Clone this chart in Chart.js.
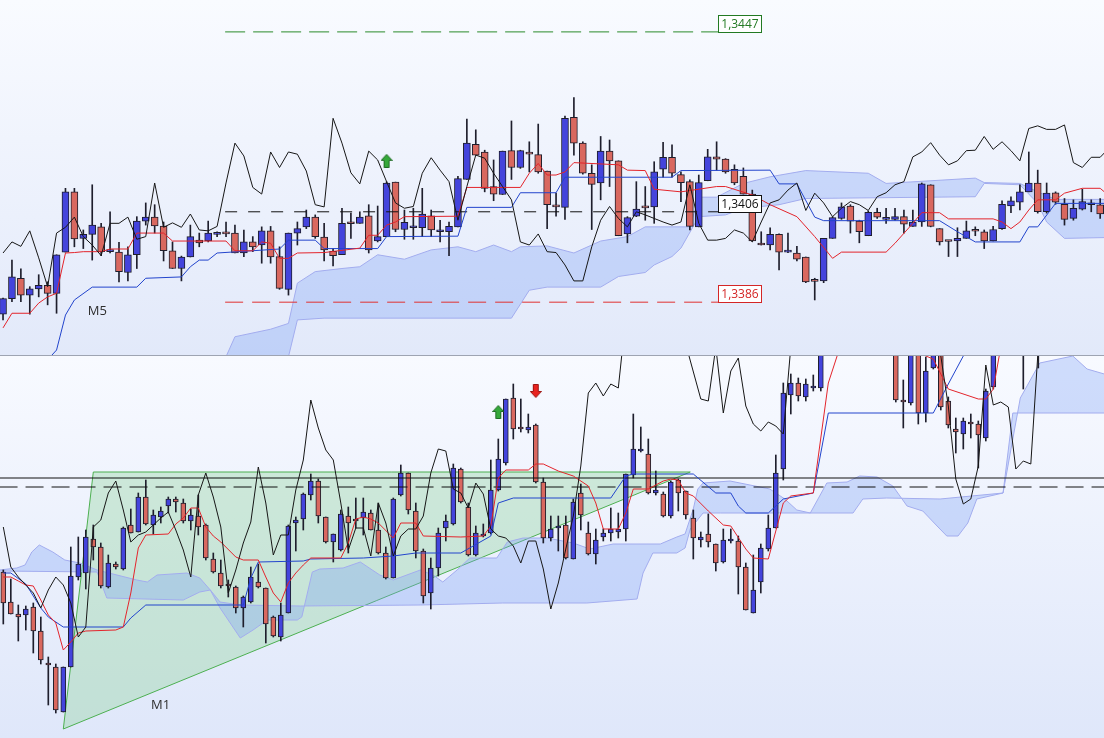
<!DOCTYPE html>
<html>
<head>
<meta charset="utf-8">
<script src="https://cdn.jsdelivr.net/npm/chart.js@4.4.1/dist/chart.umd.min.js"></script>
<style>
  html, body { margin: 0; padding: 0; overflow: hidden; background: #fff; }
  #wrap { width: 1104px; height: 738px; }
  canvas { display: block; }
  #m5 { background: linear-gradient(#f9fbff, #e2e9fa); }
  #sep { height: 1px; background: #9ea4b2; }
  #m1 { background: linear-gradient(#f8faff, #dfe7fa); }
</style>
</head>
<body>
<div id="wrap">
  <canvas id="m5" width="1104" height="355"></canvas>
  <div id="sep"></div>
  <canvas id="m1" width="1104" height="382"></canvas>
</div>
<script>
// ---------- M5 panel (upper) ----------
// candles: [open, high, low, close], one per bar starting at bar 1
const m5Ohlc = [
  [1.33833,1.33869,1.33820,1.33868],[1.33868,1.33955,1.33861,1.33917],[1.33914,1.33935,1.33861,1.33876],[1.33876,1.33895,1.33833,1.33890],
  [1.33890,1.33922,1.33872,1.33898],[1.33898,1.33906,1.33854,1.33880],[1.33880,1.33967,1.33835,1.33967],[1.33973,1.34117,1.33973,1.34109],
  [1.34109,1.34117,1.33985,1.34003],[1.34004,1.34023,1.33981,1.34013],[1.34013,1.34125,1.33955,1.34034],[1.34030,1.34038,1.33965,1.33974],
  [1.33974,1.34064,1.33971,1.33975],[1.33973,1.33995,1.33906,1.33929],[1.33927,1.33985,1.33908,1.33967],[1.33967,1.34053,1.33936,1.34043],
  [1.34043,1.34084,1.34034,1.34052],[1.34052,1.34080,1.34016,1.34032],[1.34032,1.34041,1.33953,1.33976],[1.33976,1.33996,1.33936,1.33936],
  [1.33936,1.33964,1.33908,1.33962],[1.33962,1.34034,1.33962,1.34008],[1.34000,1.34016,1.33985,1.33994],[1.33998,1.34043,1.33996,1.34016],
  [1.34013,1.34019,1.34008,1.34015],[1.34015,1.34041,1.34008,1.34014],[1.34016,1.34034,1.33971,1.33971],[1.33971,1.34023,1.33963,1.33996],
  [1.33996,1.34008,1.33974,1.33985],[1.33989,1.34030,1.33948,1.34021],[1.34021,1.34031,1.33948,1.33962],[1.33963,1.33985,1.33889,1.33891],
  [1.33889,1.34016,1.33876,1.34016],[1.34016,1.34041,1.33989,1.34026],[1.34030,1.34068,1.34026,1.34052],[1.34052,1.34057,1.34004,1.34008],
  [1.34007,1.34038,1.33953,1.33978],[1.33975,1.33981,1.33942,1.33965],[1.33967,1.34072,1.33967,1.34038],[1.34038,1.34061,1.34004,1.34037],
  [1.34038,1.34064,1.34038,1.34052],[1.34055,1.34080,1.33971,1.33978],[1.33998,1.34077,1.33996,1.34008],[1.34008,1.34132,1.34008,1.34129],
  [1.34131,1.34131,1.34019,1.34024],[1.34024,1.34068,1.34002,1.34040],[1.34028,1.34072,1.34002,1.34029],[1.34028,1.34117,1.34008,1.34059],
  [1.34055,1.34068,1.34008,1.34023],[1.34019,1.34045,1.33996,1.34020],[1.34019,1.34041,1.33965,1.34031],[1.34030,1.34144,1.34030,1.34139],
  [1.34137,1.34273,1.34137,1.34219],[1.34216,1.34249,1.34192,1.34192],[1.34199,1.34203,1.34109,1.34117],[1.34121,1.34181,1.34089,1.34104],
  [1.34103,1.34201,1.34103,1.34201],[1.34202,1.34269,1.34137,1.34164],[1.34164,1.34203,1.34162,1.34202],[1.34198,1.34222,1.34154,1.34194],
  [1.34193,1.34262,1.34151,1.34154],[1.34156,1.34156,1.34026,1.34080],[1.34076,1.34106,1.34054,1.34075],[1.34074,1.34280,1.34047,1.34275],
  [1.34277,1.34322,1.34192,1.34219],[1.34219,1.34222,1.34149,1.34151],[1.34151,1.34170,1.34024,1.34126],[1.34129,1.34234,1.34091,1.34201],
  [1.34201,1.34226,1.34121,1.34179],[1.34179,1.34179,1.34010,1.34010],[1.34014,1.34053,1.33994,1.34051],[1.34054,1.34132,1.34053,1.34070],
  [1.34074,1.34121,1.34045,1.34073],[1.34075,1.34177,1.34038,1.34154],[1.34160,1.34221,1.34142,1.34187],[1.34187,1.34215,1.34142,1.34151],
  [1.34148,1.34154,1.34087,1.34130],[1.34132,1.34136,1.34023,1.34031],[1.34030,1.34147,1.34030,1.34130],[1.34134,1.34205,1.34134,1.34188],
  [1.34188,1.34222,1.34158,1.34183],[1.34183,1.34184,1.34151,1.34154],[1.34160,1.34170,1.34125,1.34129],[1.34144,1.34163,1.34104,1.34104],
  [1.34104,1.34113,1.33998,1.33998],[1.33993,1.34019,1.33989,1.33989],[1.33989,1.34028,1.33978,1.34013],[1.34013,1.34014,1.33933,1.33973],
  [1.33973,1.34016,1.33972,1.33974],[1.33971,1.33986,1.33953,1.33957],[1.33962,1.33962,1.33904,1.33906],[1.33908,1.33914,1.33865,1.33907],
  [1.33908,1.34004,1.33904,1.34004],[1.34004,1.34053,1.34004,1.34051],[1.34049,1.34084,1.34047,1.34075],[1.34077,1.34080,1.34016,1.34043],
  [1.34043,1.34045,1.33994,1.34019],[1.34010,1.34066,1.34010,1.34063],[1.34063,1.34072,1.34049,1.34052],[1.34047,1.34072,1.34038,1.34050],
  [1.34047,1.34072,1.34045,1.34053],[1.34053,1.34068,1.34016,1.34036],[1.34031,1.34068,1.34031,1.34041],[1.34041,1.34129,1.34031,1.34127],
  [1.34125,1.34125,1.34030,1.34031],[1.34026,1.34026,1.33989,1.33996],[1.33998,1.33998,1.33963,1.33997],[1.33998,1.34028,1.33963,1.34004],
  [1.34004,1.34043,1.34004,1.34021],[1.34021,1.34030,1.34010,1.34020],[1.34019,1.34023,1.33981,1.33998],[1.33998,1.34031,1.33998,1.34024],
  [1.34026,1.34089,1.34024,1.34081],[1.34077,1.34098,1.34062,1.34089],[1.34086,1.34125,1.34068,1.34109],[1.34109,1.34199,1.34109,1.34129],
  [1.34129,1.34158,1.34061,1.34064],[1.34064,1.34129,1.34061,1.34106],[1.34107,1.34109,1.34081,1.34086],[1.34081,1.34094,1.34034,1.34047],
  [1.34049,1.34091,1.34045,1.34072],[1.34070,1.34115,1.34068,1.34087],[1.34080,1.34091,1.34064,1.34081],[1.34080,1.34094,1.34049,1.34059]
];
// lagging line, one value per bar from bar 1
const m5Chikou = [
  1.33971,1.33996,1.33986,1.34021,1.33960,1.33895,1.34016,1.34029,1.34052,1.34008,
  1.33989,1.33965,1.34038,1.34038,1.34052,1.34002,1.34008,1.34129,1.34029,1.34039,
  1.34029,1.34059,1.34023,1.34021,1.34031,1.34129,1.34219,1.34190,1.34119,1.34104,
  1.34199,1.34164,1.34199,1.34194,1.34156,1.34080,1.34075,1.34275,1.34219,1.34152,
  1.34127,1.34201,1.34181,1.34132,1.34084,1.34072,1.34076,1.34151,1.34186,1.34158,
  1.34132,1.34045,1.34121,1.34192,1.34185,1.34151,1.34121,1.34091,1.33996,1.33989,
  1.34014,1.33974,1.33972,1.33944,1.33908,1.33908,1.33985,1.34045,1.34076,1.34049,
  1.34030,1.34064,1.34057,1.34049,1.34041,1.34034,1.34041,1.34125,1.34038,1.34000,
  1.34000,1.34004,1.34023,1.34016,1.33996,1.34041,1.34084,1.34091,1.34113,1.34129,
  1.34067,1.34106,1.34084,1.34053,1.34072,1.34087,1.34080,1.34067,1.34098,1.34107,
  1.34125,1.34132,1.34188,1.34199,1.34220,1.34192,1.34170,1.34179,1.34202,1.34203,
  1.34234,1.34205,1.34222,1.34202,1.34179,1.34252,1.34258,1.34250,1.34250,1.34260,
  1.34175,1.34164,1.34187,1.34187,1.34208
];
// [bar, price] break points
const m5Tenkan = [[1,1.33802],[2,1.33835],[4,1.33835],[5,1.33858],[6,1.33872],[7,1.33880],[8,1.33971],[9,1.33972],[10,1.33974],[12,1.33974],[13,1.33980],[15,1.33980],[16,1.34016],[19,1.34016],[20,1.33998],[26,1.33998],[27,1.33976],[29,1.33976],[30,1.33996],[31,1.33993],[32,1.33959],[33,1.33959],[34,1.33971],[37,1.33972],[41,1.33982],[42,1.34011],[43,1.34011],[44,1.34034],[45,1.34041],[46,1.34053],[52,1.34054],[53,1.34119],[59,1.34119],[60,1.34151],[61,1.34173],[62,1.34147],[63,1.34147],[64,1.34154],[65,1.34175],[70,1.34170],[71,1.34158],[73,1.34157],[74,1.34115],[77,1.34109],[81,1.34121],[82,1.34121],[85,1.34102],[87,1.34080],[90,1.34053],[92,1.34008],[94,1.33959],[95,1.33973],[100,1.33973],[101,1.33993],[103,1.34038],[104,1.34062],[106,1.34062],[107,1.34048],[112,1.34048],[113,1.34041],[114,1.34026],[115,1.34041],[116,1.34068],[117,1.34091],[119,1.34091],[120,1.34106],[122,1.34117],[124,1.34117],[125,1.34100]];
const m5Kijun = [[1,1.33684],[6,1.33730],[7,1.33752],[8,1.33831],[9,1.33865],[11,1.33894],[16,1.33894],[17,1.33914],[21,1.33917],[22,1.33940],[23,1.33955],[24,1.33955],[25,1.33971],[32,1.33980],[33,1.34000],[36,1.34000],[37,1.33981],[43,1.33981],[44,1.34008],[52,1.34009],[53,1.34074],[58,1.34074],[59,1.34107],[63,1.34107],[64,1.34142],[76,1.34142],[77,1.34157],[87,1.34158],[88,1.34127],[90,1.34127],[92,1.34052],[93,1.34044],[106,1.34044],[108,1.34019],[110,1.33996],[115,1.33996],[116,1.34030],[117,1.34030],[119,1.34083],[125,1.34083]];
const m5SpanA = [[25,1.33684],[26,1.33737],[27,1.33782],[31,1.33799],[33,1.33812],[34,1.33903],[36,1.33929],[39,1.33936],[41,1.33940],[43,1.33967],[46,1.33957],[49,1.33978],[52,1.33985],[54,1.33974],[56,1.33989],[58,1.33974],[59,1.33985],[62,1.33987],[65,1.33971],[68,1.33998],[71,1.34008],[73,1.34030],[78,1.34030],[79,1.34097],[81,1.34097],[84,1.34128],[87,1.34143],[91,1.34157],[98,1.34151],[100,1.34128],[110,1.34140],[111,1.34130],[115,1.34128],[117,1.34109],[119,1.34092],[125,1.34092]];
const m5SpanB = [[25,1.33684],[32,1.33684],[33,1.33737],[34,1.33820],[37,1.33824],[58,1.33824],[60,1.33887],[62,1.33894],[68,1.33894],[70,1.33918],[73,1.33927],[74,1.33944],[76,1.33963],[77,1.33982],[79,1.34053],[82,1.34057],[84,1.34072],[88,1.34080],[91,1.34094],[110,1.34098],[111,1.34128],[115,1.34125],[117,1.34083],[118,1.34041],[120,1.34004],[125,1.34006]];
const m5Levels = [1.3447, 1.3386, 1.34064];
const m5LevelLabels = ['1,3447', '1,3386', '1,3406'];
const m5LevelBars = [25.9, 81.16];
const m5UpArrows = [[44, 1.34179]];
const m5Range = { x: [0.66, 124.43], y: [1.337408, 1.34542] };

// ---------- M1 panel (lower) ----------
const m1Ohlc = [
  [1.33975,1.33977,1.33923,1.33944],[1.33945,1.33968,1.33933,1.33933],[1.33933,1.33942,1.33906,1.33930],[1.33932,1.33941,1.33917,1.33938],
  [1.33940,1.33944,1.33894,1.33916],[1.33916,1.33930,1.33883,1.33887],[1.33883,1.33890,1.33842,1.33882],[1.33880,1.33883,1.33834,1.33837],
  [1.33835,1.33880,1.33835,1.33880],[1.33880,1.34000,1.33880,1.33971],[1.33970,1.34010,1.33967,1.33983],[1.33974,1.34017,1.33958,1.34010],
  [1.34008,1.34022,1.33987,1.34000],[1.34000,1.34004,1.33959,1.33961],[1.33960,1.33992,1.33959,1.33984],[1.33983,1.33985,1.33978,1.33980],
  [1.33978,1.34020,1.33977,1.34019],[1.34022,1.34038,1.34014,1.34014],[1.34015,1.34054,1.34015,1.34050],[1.34050,1.34067,1.34022,1.34023],
  [1.34022,1.34037,1.34013,1.34032],[1.34030,1.34040,1.34024,1.34036],[1.34041,1.34050,1.34034,1.34048],[1.34048,1.34050,1.34035,1.34045],
  [1.34044,1.34048,1.34024,1.34026],[1.34026,1.34038,1.34017,1.34032],[1.34031,1.34052,1.34012,1.34020],[1.34022,1.34023,1.33987,1.33989],
  [1.33988,1.33994,1.33974,1.33975],[1.33974,1.33987,1.33959,1.33961],[1.33962,1.33967,1.33950,1.33961],[1.33960,1.33961,1.33934,1.33939],
  [1.33939,1.33951,1.33920,1.33950],[1.33945,1.33980,1.33944,1.33970],[1.33965,1.33983,1.33959,1.33960],[1.33959,1.33959,1.33904,1.33923],
  [1.33930,1.33931,1.33910,1.33911],[1.33910,1.33944,1.33906,1.33932],[1.33934,1.34022,1.33934,1.34021],[1.34024,1.34030,1.33996,1.34027],
  [1.34028,1.34054,1.34017,1.34053],[1.34052,1.34073,1.34047,1.34066],[1.34066,1.34068,1.34024,1.34031],[1.34030,1.34030,1.34004,1.34005],
  [1.34005,1.34013,1.33985,1.34013],[1.33997,1.34037,1.33996,1.34033],[1.34031,1.34040,1.33994,1.34024],[1.34027,1.34049,1.34019,1.34026],
  [1.34029,1.34049,1.34012,1.34035],[1.34034,1.34037,1.34017,1.34017],[1.34017,1.34044,1.33993,1.33994],[1.33994,1.34000,1.33968,1.33969],
  [1.33969,1.34049,1.33969,1.34048],[1.34052,1.34082,1.34051,1.34074],[1.34074,1.34074,1.34033,1.34037],[1.34036,1.34044,1.33989,1.33996],
  [1.33996,1.33998,1.33944,1.33951],[1.33954,1.33989,1.33938,1.33979],[1.33979,1.34019,1.33971,1.34014],[1.34019,1.34032,1.34006,1.34026],
  [1.34023,1.34083,1.34022,1.34079],[1.34078,1.34079,1.34044,1.34045],[1.34040,1.34044,1.33991,1.33992],[1.33992,1.34021,1.33991,1.34014],
  [1.34011,1.34023,1.34010,1.34013],[1.34014,1.34087,1.34013,1.34057],[1.34057,1.34108,1.34056,1.34088],[1.34084,1.34148,1.34082,1.34148],
  [1.34149,1.34163,1.34108,1.34118],[1.34120,1.34148,1.34115,1.34118],[1.34117,1.34133,1.34114,1.34120],[1.34122,1.34123,1.34064,1.34065],
  [1.34065,1.34069,1.34004,1.34009],[1.34009,1.34031,1.34006,1.34018],[1.34019,1.34031,1.33996,1.34020],[1.34022,1.34031,1.33988,1.33989],
  [1.33988,1.34048,1.33988,1.34045],[1.34054,1.34063,1.34017,1.34032],[1.34014,1.34025,1.33992,1.33993],[1.33993,1.34018,1.33983,1.34007],
  [1.34010,1.34018,1.34006,1.34014],[1.34014,1.34039,1.34006,1.34018],[1.34015,1.34034,1.34009,1.34018],[1.34018,1.34073,1.34006,1.34073],
  [1.34072,1.34133,1.34069,1.34098],[1.34096,1.34120,1.34095,1.34097],[1.34093,1.34108,1.34053,1.34054],[1.34054,1.34076,1.34052,1.34057],
  [1.34053,1.34055,1.34030,1.34031],[1.34031,1.34066,1.34029,1.34065],[1.34067,1.34068,1.34036,1.34054],[1.34056,1.34056,1.34028,1.34032],
  [1.34029,1.34037,1.33988,1.34009],[1.34007,1.34015,1.34000,1.34010],[1.34013,1.34033,1.34000,1.34005],[1.34003,1.34003,1.33976,1.33984],
  [1.33985,1.34018,1.33984,1.34007],[1.34006,1.34018,1.34004,1.34007],[1.34006,1.34011,1.33953,1.33980],[1.33980,1.33984,1.33937,1.33937],
  [1.33934,1.33992,1.33934,1.33957],[1.33965,1.34003,1.33954,1.33999],[1.33998,1.34032,1.33996,1.34019],[1.34019,1.34092,1.34019,1.34074],
  [1.34078,1.34164,1.34067,1.34154],[1.34152,1.34173,1.34133,1.34164],[1.34164,1.34169,1.34146,1.34151],[1.34150,1.34168,1.34146,1.34163],
  [1.34159,1.34172,1.34156,1.34160],[1.34159,1.34217,1.34156,1.34207],[1.34207,1.34232,1.34200,1.34225],[1.34225,1.34235,1.34205,1.34212],
  [1.34212,1.34250,1.34208,1.34240],[1.34240,1.34248,1.34220,1.34228],[1.34228,1.34255,1.34222,1.34245],[1.34245,1.34250,1.34225,1.34230],
  [1.34230,1.34238,1.34210,1.34215],[1.34215,1.34240,1.34212,1.34232],[1.34232,1.34236,1.34200,1.34210],[1.34200,1.34210,1.34145,1.34147],
  [1.34146,1.34167,1.34119,1.34145],[1.34144,1.34210,1.34142,1.34200],[1.34200,1.34205,1.34123,1.34134],[1.34134,1.34190,1.34125,1.34176],
  [1.34179,1.34240,1.34178,1.34230],[1.34215,1.34225,1.34137,1.34140],[1.34146,1.34150,1.34119,1.34122],[1.34118,1.34129,1.34094,1.34115],
  [1.34113,1.34129,1.34098,1.34126],[1.34125,1.34133,1.34109,1.34123],[1.34123,1.34126,1.34079,1.34112],[1.34109,1.34158,1.34106,1.34156],
  [1.34160,1.34230,1.34158,1.34220],[1.34220,1.34250,1.34210,1.34240],[1.34240,1.34248,1.34215,1.34225],[1.34225,1.34230,1.34198,1.34205],
  [1.34205,1.34215,1.34158,1.34200],[1.34200,1.34240,1.34196,1.34230],[1.34230,1.34238,1.34179,1.34205],[1.34205,1.34245,1.34200,1.34235],
  [1.34235,1.34262,1.34228,1.34255],[1.34255,1.34260,1.34232,1.34240],[1.34240,1.34266,1.34235,1.34258],[1.34258,1.34262,1.34238,1.34245],
  [1.34245,1.34270,1.34240,1.34262],[1.34262,1.34268,1.34244,1.34250],[1.34250,1.34272,1.34246,1.34266],[1.34266,1.34270,1.34250,1.34255]
];
const m1Chikou = [[1,1.34020],[2,1.33980],[3,1.33970],[4,1.33962],[5,1.33954],[6,1.33939],[7,1.33957],[8,1.33970],[9,1.33962],[10,1.33944],[11,1.33910],[12,1.33920],[13,1.34020],[14,1.34027],[15,1.34054],[16,1.34066],[17,1.34037],[18,1.34005],[19,1.34012],[20,1.34015],[21,1.34022],[22,1.34029],[23,1.34035],[24,1.34017],[25,1.33997],[26,1.33970],[27,1.34052],[28,1.34074],[29,1.34050],[30,1.34020],[31,1.33954],[32,1.33977],[33,1.34004],[34,1.34025],[35,1.34080],[36,1.34044],[37,1.33992],[38,1.34012],[39,1.34012],[40,1.34057],[41,1.34087],[42,1.34147],[43,1.34119],[44,1.34097],[45,1.34087],[46,1.34044],[47,1.33997],[48,1.34019],[49,1.34019],[50,1.33991],[51,1.34044],[52,1.34024],[53,1.33991],[54,1.34011],[55,1.34018],[56,1.34018],[57,1.34031],[58,1.34074],[59,1.34098],[60,1.34096],[61,1.34058],[62,1.34054],[63,1.34039],[64,1.34064],[65,1.34053],[66,1.34018],[67,1.34011],[68,1.34009],[69,1.34001],[70,1.33984],[71,1.34006],[72,1.34006],[73,1.33978],[74,1.33938],[75,1.33964],[76,1.33998],[77,1.34031],[78,1.34081],[79,1.34154],[80,1.34164],[81,1.34151],[82,1.34163],[83,1.34159],[84,1.34230],[85,1.34260],[87,1.34280],[89,1.34260],[91,1.34230],[94,1.34148],[95,1.34146],[96,1.34200],[97,1.34134],[98,1.34176],[99,1.34189],[100,1.34141],[101,1.34123],[102,1.34116],[103,1.34125],[104,1.34121],[105,1.34113],[106,1.34200],[110,1.34260],[115,1.34300],[120,1.34260],[124,1.34220],[126,1.34191],[127,1.34141],[128,1.34068],[129,1.34043],[130,1.34048],[131,1.34081],[132,1.34182],[133,1.34142],[134,1.34145],[135,1.34140],[136,1.34078],[137,1.34086],[138,1.34083],[139,1.34200],[140,1.34260],[148,1.34260]];
const m1Tenkan = [[1,1.33970],[2,1.33970],[3,1.33966],[4,1.33962],[5,1.33961],[6,1.33947],[7,1.33932],[8,1.33924],[9,1.33897],[10,1.33905],[11,1.33914],[12,1.33916],[16,1.33917],[17,1.33920],[18,1.33954],[19,1.33999],[20,1.34012],[23,1.34013],[24,1.34023],[25,1.34029],[26,1.34039],[27,1.34039],[28,1.34020],[29,1.34011],[30,1.34005],[32,1.33990],[33,1.33987],[35,1.33987],[36,1.33970],[37,1.33954],[38,1.33945],[39,1.33964],[40,1.33974],[41,1.33982],[42,1.33989],[46,1.33989],[47,1.34004],[48,1.34028],[49,1.34030],[50,1.34028],[51,1.34024],[53,1.34009],[54,1.34024],[56,1.34024],[57,1.34011],[62,1.34010],[65,1.34011],[66,1.34021],[67,1.34069],[68,1.34077],[71,1.34077],[72,1.34083],[73,1.34083],[75,1.34076],[77,1.34071],[79,1.34061],[80,1.34044],[81,1.34018],[83,1.34018],[84,1.34034],[85,1.34058],[87,1.34058],[89,1.34066],[90,1.34068],[91,1.34067],[92,1.34054],[93,1.34051],[95,1.34036],[97,1.34022],[98,1.34021],[100,1.33998],[101,1.33989],[103,1.33988],[105,1.34044],[106,1.34051],[109,1.34054],[111,1.34164],[113,1.34210],[118,1.34250],[124,1.34191],[125,1.34188],[127,1.34158],[131,1.34148],[132,1.34148],[133,1.34158],[134,1.34200],[140,1.34230],[148,1.34240]];
const m1Kijun = [[1,1.33974],[2,1.33974],[4,1.33963],[6,1.33939],[7,1.33930],[9,1.33920],[17,1.33920],[18,1.33929],[20,1.33942],[33,1.33942],[34,1.33969],[35,1.33985],[41,1.33986],[42,1.33988],[49,1.33989],[53,1.33991],[56,1.33994],[62,1.33994],[66,1.34011],[67,1.34044],[69,1.34049],[82,1.34049],[84,1.34071],[85,1.34073],[93,1.34073],[96,1.34054],[98,1.34054],[99,1.34041],[100,1.34034],[103,1.34034],[105,1.34048],[109,1.34054],[111,1.34134],[125,1.34134],[127,1.34163],[129,1.34191],[130,1.34200],[148,1.34230]];
const m1SpanA = [[0.5,1.33977],[2.8,1.33979],[3.9,1.33982],[4.8,1.33995],[5.8,1.34002],[7.6,1.33995],[9.2,1.33987],[11.2,1.33984],[13.5,1.33977],[18.8,1.33967],[20.2,1.33965],[21.5,1.33972],[25.5,1.33974],[27.2,1.33969],[28.6,1.33957],[29.9,1.33939],[32.6,1.33909],[34.3,1.33917],[36.2,1.33927],[40.2,1.33927],[40.8,1.33930],[42.2,1.33975],[43.2,1.33978],[46.3,1.33979],[48.6,1.33985],[51.2,1.33972],[53,1.33967],[56.6,1.33977],[58.3,1.33972],[59.6,1.33965],[61.5,1.33977],[63.2,1.33989],[66.8,1.33989],[68.2,1.34005],[70.3,1.34009],[73.5,1.34009],[77,1.34004],[79.2,1.33998],[82.3,1.34003],[88.6,1.34003],[90.8,1.34010],[91.9,1.34013],[93,1.34038],[93.6,1.34058],[94.3,1.34064],[97.9,1.34066],[103.2,1.34058],[105.2,1.34048],[106.8,1.34037],[108.6,1.34034],[110.8,1.34064],[113.5,1.34065],[115.2,1.34071],[117.5,1.34070],[119.6,1.34061],[121.5,1.34041],[123.6,1.34036],[125.5,1.34021],[126.8,1.34011],[128.3,1.34011],[129.6,1.34024],[130.8,1.34048],[134.3,1.34054],[135.6,1.34108],[136.6,1.34149],[139.2,1.34184],[143.6,1.34191],[145.5,1.34178],[147.8,1.34173]];
const m1SpanB = [[0.5,1.33976],[13.5,1.33975],[14.8,1.33949],[25,1.33947],[27.2,1.33955],[28.6,1.33957],[29.9,1.33945],[32.6,1.33942],[40.6,1.33941],[56.6,1.33942],[67.6,1.33944],[78.8,1.33944],[85.5,1.33948],[86.3,1.33974],[87.6,1.33994],[90.8,1.33994],[91.9,1.33999],[92.6,1.34018],[94.3,1.34034],[96.6,1.34034],[114.3,1.34034],[115.6,1.34048],[118.8,1.34049],[125.9,1.34048],[134.3,1.34054],[135.6,1.34134],[147.8,1.34134]];
const m1Levels = [1.34069, 1.34060];       // solid, dashed
const m1LevelBars = [0.5, 148];
const m1Wedge = [[9, 1.33818], [13, 1.34075], [92.6, 1.34075]];
const m1UpArrows = [[67, 1.34135]];
const m1DownArrows = [[72, 1.34156]];
const m1Range = { x: [0.56, 147.76], y: [1.33809, 1.34191] };

// ---------- drawing ----------
const BULL = '#4444dc', BEAR = '#d9685f', EDGE = '#1e1e2c';

function pts(list) { return list.map(p => ({ x: p[0], y: p[1] })); }

function candleSets(ohlc, width) {
  const colors = ohlc.map(c => (c[3] >= c[0] ? BULL : BEAR));
  return [
    { type: 'bar', data: ohlc.map((c, i) => ({ x: i + 1, y: [c[0], c[3]] })), backgroundColor: colors,
      borderColor: EDGE, borderWidth: 1, borderSkipped: false, grouped: false,
      barThickness: width, maxBarThickness: width, minBarLength: 2, order: 5 },
    { type: 'bar', data: ohlc.map((c, i) => ({ x: i + 1, y: [c[2], c[1]] })), backgroundColor: EDGE,
      borderWidth: 0, grouped: false, barThickness: 1, maxBarThickness: 1, order: 6 }
  ];
}

function line(data, color, order, extra) {
  return Object.assign({ type: 'line', data: data, borderColor: color, borderWidth: 1,
    pointRadius: 0, tension: 0, fill: false, order: order }, extra || {});
}

function arrowImg(up, fill, edge) {
  const c = document.createElement('canvas');
  c.width = 12; c.height = 14;
  const g = c.getContext('2d');
  const p = up ? [[6,0.5],[11.5,6.5],[8.5,6.5],[8.5,13.5],[3.5,13.5],[3.5,6.5],[0.5,6.5]]
               : [[6,13.5],[11.5,7.5],[8.5,7.5],[8.5,0.5],[3.5,0.5],[3.5,7.5],[0.5,7.5]];
  g.beginPath();
  p.forEach((q, i) => (i ? g.lineTo(q[0], q[1]) : g.moveTo(q[0], q[1])));
  g.closePath();
  g.fillStyle = fill; g.fill();
  g.strokeStyle = edge; g.lineWidth = 1; g.stroke();
  return c;
}
const upImg = arrowImg(true, '#35a83a', '#1d6b22');
const downImg = arrowImg(false, '#e8231f', '#9c1410');

function arrows(list, img) {
  return { type: 'line', data: pts(list), showLine: false, pointStyle: img, pointRadius: 7, order: 0 };
}

const panelText = {
  id: 'panelText',
  afterDraw(chart, args, opts) {
    const { ctx, scales } = chart;
    ctx.save();
    ctx.textBaseline = 'middle';
    (opts.boxes || []).forEach(b => {
      ctx.font = '12px "Open Sans", "DejaVu Sans", sans-serif';
      const px = Math.round(scales.x.getPixelForValue(b.x)) + 0.5;
      const py = Math.round(scales.y.getPixelForValue(b.y)) + 0.5;
      const w = Math.round(ctx.measureText(b.text).width) + 6, h = 17;
      ctx.fillStyle = '#fff';
      ctx.fillRect(px, py - h, w, h);
      ctx.strokeStyle = b.color; ctx.lineWidth = 1;
      ctx.strokeRect(px, py - h, w, h);
      ctx.fillStyle = b.color; ctx.textAlign = 'center';
      ctx.fillText(b.text, px + w / 2, py - h / 2 + 0.5);
    });
    (opts.tags || []).forEach(t => {
      ctx.font = '13px "Open Sans", "DejaVu Sans", sans-serif';
      ctx.fillStyle = '#2e2e2e'; ctx.textAlign = 'left';
      ctx.fillText(t.text, scales.x.getPixelForValue(t.x), scales.y.getPixelForValue(t.y));
    });
    ctx.restore();
  }
};

function makeChart(id, datasets, range, textOpts) {
  return new Chart(document.getElementById(id), {
    type: 'bar',
    data: { datasets: datasets },
    options: {
      responsive: false, animation: false, events: [],
      layout: { padding: 0, autoPadding: false },
      scales: {
        x: { type: 'linear', min: range.x[0], max: range.x[1], display: false, offset: false },
        y: { type: 'linear', min: range.y[0], max: range.y[1], display: false }
      },
      plugins: { legend: { display: false }, tooltip: { enabled: false }, panelText: textOpts }
    },
    plugins: [panelText]
  });
}

const CLOUD_EDGE = '#a2acee', CLOUD_FILL = 'rgba(122,158,245,0.32)';
const RED = '#e3242b', BLUE = '#2244cc', BLACK = '#161616';
const lvl = (v, bars) => [{ x: bars[0], y: v }, { x: bars[1], y: v }];

makeChart('m5', [
  arrows(m5UpArrows, upImg),
  line(m5Chikou.map((v, i) => ({ x: i + 1, y: v })), BLACK, 1),
  line(pts(m5Tenkan), RED, 2),
  line(pts(m5Kijun), BLUE, 3),
  line(lvl(m5Levels[0], m5LevelBars), '#2a8a2a', 4, { borderDash: [20, 8] }),
  line(lvl(m5Levels[1], m5LevelBars), '#e03030', 4, { borderDash: [18, 9] }),
  line(lvl(m5Levels[2], m5LevelBars), '#111', 4, { borderDash: [12, 11] }),
  ...candleSets(m5Ohlc, 7),
  line(pts(m5SpanA), CLOUD_EDGE, 7),
  line(pts(m5SpanB), CLOUD_EDGE, 8, { fill: '-1', backgroundColor: CLOUD_FILL })
], m5Range, {
  boxes: [
    { x: m5LevelBars[1], y: m5Levels[0], text: m5LevelLabels[0], color: '#237a23' },
    { x: m5LevelBars[1], y: m5Levels[1], text: m5LevelLabels[1], color: '#d42626' },
    { x: m5LevelBars[1], y: m5Levels[2], text: m5LevelLabels[2], color: '#111' }
  ],
  tags: [{ x: 10.5, y: 1.33840, text: 'M5' }]
});

makeChart('m1', [
  arrows(m1UpArrows, upImg),
  arrows(m1DownArrows, downImg),
  line(pts(m1Chikou), BLACK, 1),
  line(pts(m1Tenkan), RED, 2),
  line(pts(m1Kijun), BLUE, 3),
  line(lvl(m1Levels[0], m1LevelBars), '#111', 4, { borderWidth: 1.2 }),
  line(lvl(m1Levels[1], m1LevelBars), '#111', 4, { borderDash: [18, 8] }),
  ...candleSets(m1Ohlc, 5),
  line(pts(m1SpanA), CLOUD_EDGE, 7),
  line(pts(m1SpanB), CLOUD_EDGE, 8, { fill: '-1', backgroundColor: CLOUD_FILL }),
  line(pts(m1Wedge), '#4caf50', 9),
  line(pts([m1Wedge[0], m1Wedge[2]]), '#4caf50', 10, { fill: '-1', backgroundColor: 'rgba(140,212,152,0.36)' })
], m1Range, {
  tags: [{ x: 20.7, y: 1.33842, text: 'M1' }]
});
</script>
</body>
</html>
